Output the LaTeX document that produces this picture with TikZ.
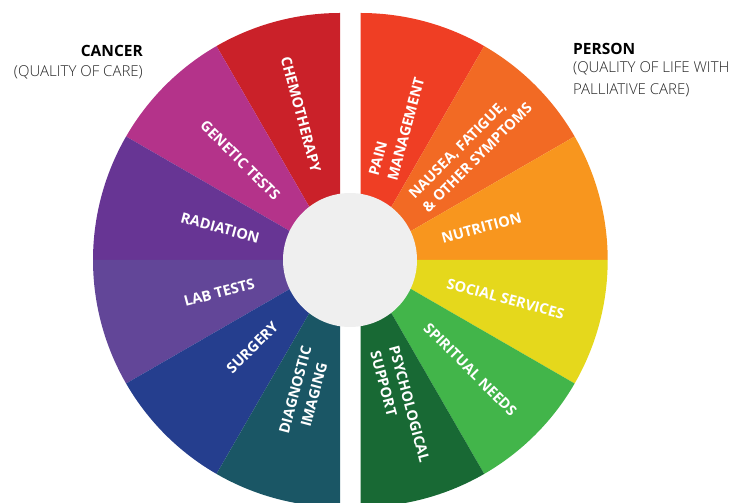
\documentclass[tikz,border=0pt]{standalone}
\usepackage{fontspec}
\setmainfont{Open Sans}
\newfontfamily\lightfont{Open Sans Light}
\definecolor{cChemo}{HTML}{CA2129}
\definecolor{cGenetic}{HTML}{B4338A}
\definecolor{cRadiation}{HTML}{673594}
\definecolor{cLab}{HTML}{624698}
\definecolor{cSurgery}{HTML}{253E8E}
\definecolor{cImaging}{HTML}{1A5665}
\definecolor{cPain}{HTML}{EF3E24}
\definecolor{cNausea}{HTML}{F26A24}
\definecolor{cNutrition}{HTML}{F8961E}
\definecolor{cSocial}{HTML}{E5D81C}
\definecolor{cSpiritual}{HTML}{42B54A}
\definecolor{cPsych}{HTML}{186934}
\definecolor{hubgray}{HTML}{EFEFEF}
\definecolor{subgray}{HTML}{262626}
\newcommand\wedgefill[4]{\fill[#1] (#2) -- ++(#3:247) arc[start angle=#3,end angle=#4,radius=247] -- cycle;}
\begin{document}
\begin{tikzpicture}[x=1pt,y=1pt,
  lbl/.style={text=white, font=\fontsize{14.5}{19.5}\selectfont\bfseries, inner sep=0pt, align=center},
  lbll/.style={lbl, align=left},
  hd/.style={inner sep=0pt, font=\fontsize{15.5}{20}\selectfont\bfseries, text=black},
  subhd/.style={inner sep=0pt, font=\fontsize{15}{21}\selectfont\lightfont, text=subgray}]
\useasboundingbox (0,0) rectangle (736,503);
\coordinate (L) at (340,243);
\coordinate (R) at (360.7,243);
\coordinate (C) at (350,243);
% left half
\wedgefill{cChemo}{L}{90}{120}
\wedgefill{cGenetic}{L}{120}{150}
\wedgefill{cRadiation}{L}{150}{180}
\wedgefill{cLab}{L}{180}{210}
\wedgefill{cSurgery}{L}{210}{240}
\wedgefill{cImaging}{L}{240}{270}
% right half
\wedgefill{cPain}{R}{90}{60}
\wedgefill{cNausea}{R}{60}{30}
\wedgefill{cNutrition}{R}{30}{0}
\wedgefill{cSocial}{R}{0}{-30}
\wedgefill{cSpiritual}{R}{-30}{-60}
\wedgefill{cPsych}{R}{-60}{-90}
% hub
\node[circle, fill=hubgray, minimum size=134pt, inner sep=0pt] (hub) at (C) {};
% left labels
\node[lbl, rotate=-75] (chemo) at ([shift={(105:151)}]L) {CHEMOTHERAPY};
\node[lbl, rotate=-45] (genetic) at ([shift={(135:141)}]L) {GENETIC TESTS};
\node[lbl, rotate=-15] (radiation) at ([shift={(165:124)}]L) {RADIATION};
\node[lbl, rotate=15] (lab) at ([shift={(195:125)}]L) {LAB TESTS};
\node[lbl, rotate=45] (surgery) at ([shift={(225:124)}]L) {SURGERY};
\node[lbl, rotate=75] (imaging) at ([shift={(255:137)}]L) {DIAGNOSTIC\\IMAGING};
% right labels
\node[lbll, rotate=75] (pain) at ([shift={(75:138)}]R) {PAIN\\MANAGEMENT};
\node[lbll, rotate=45] (nausea) at ([shift={(45:155)}]R) {NAUSEA, FATIGUE,\\\& OTHER SYMPTOMS};
\node[lbl, rotate=15] (nutrition) at ([shift={(15:125)}]R) {NUTRITION};
\node[lbl, rotate=-15] (social) at ([shift={(-15:150)}]R) {SOCIAL SERVICES};
\node[lbl, rotate=-45] (spiritual) at ([shift={(-45:155)}]R) {SPIRITUAL NEEDS};
\node[lbll, rotate=-75] (psych) at ([shift={(-75:152)}]R) {PSYCHOLOGICAL\\SUPPORT};
% headings
\node[hd, anchor=base east] (cancer) at (143,446) {CANCER};
\node[subhd, anchor=base east] (cancersub) at (143,426) {(QUALITY OF CARE)};
\node[hd, anchor=base west] (person) at (573,448) {PERSON};
\node[subhd, anchor=base west] (personsub1) at (573,430) {(QUALITY OF LIFE WITH};
\node[subhd, anchor=base west] (personsub2) at (573,408) {PALLIATIVE CARE)};
\end{tikzpicture}
\end{document}
